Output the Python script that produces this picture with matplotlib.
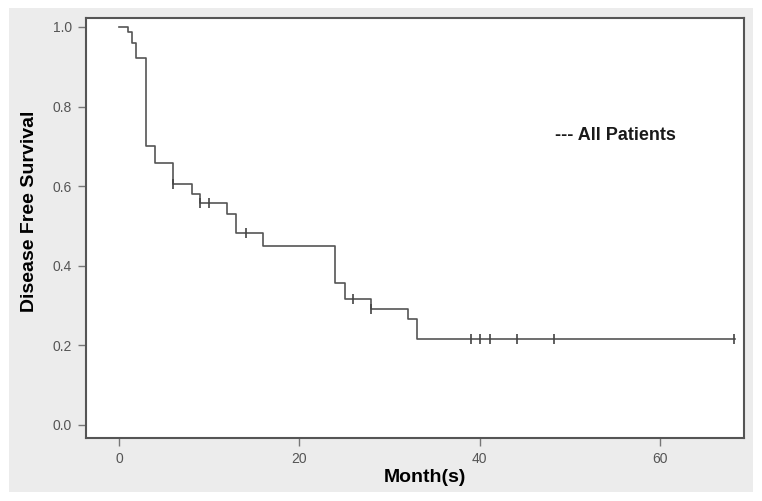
import numpy as np
import matplotlib
matplotlib.use("Agg")
import matplotlib.pyplot as plt
from matplotlib.patches import Rectangle

plt.rcParams["font.family"] = ["Liberation Sans", "DejaVu Sans"]

# Kaplan-Meier step curve (month at which survival changes, survival after change)
event_months = [0, 1.0, 1.4, 1.9, 3.0, 4.0, 6.0, 8.1, 9.0, 12.0, 13.0, 16.0,
                24.0, 25.1, 28.0, 32.1, 33.0]
survival = [1.0, 0.987, 0.961, 0.923, 0.702, 0.657, 0.606, 0.580, 0.557, 0.530,
            0.483, 0.450, 0.356, 0.316, 0.291, 0.265, 0.216]
last_month = 68.3

# censored observations
censor_months = [6.0, 9.0, 10.0, 14.1, 26.0, 28.0, 39.0, 40.0, 41.1, 44.1, 48.2, 68.2]

xticks = [0, 20, 40, 60]
yticks = [0.0, 0.2, 0.4, 0.6, 0.8, 1.0]

fig = plt.figure(figsize=(7.62, 5.01), dpi=100)
fig.patch.set_facecolor("white")
fig.patches.append(Rectangle((9 / 762, 1 - 492 / 501), 744 / 762, 484 / 501,
                             transform=fig.transFigure, facecolor="#ececec",
                             edgecolor="none", zorder=-10))

ax = fig.add_axes([86 / 762, 1 - 438 / 501, 658 / 762, 420 / 501])
ax.set_facecolor("white")

xs = list(event_months) + [last_month]
ys = list(survival) + [survival[-1]]
ax.step(xs, ys, where="post", color="#555555", lw=1.2)

# censor marks sit on the curve
idx = np.searchsorted(event_months, censor_months, side="right") - 1
cy = [survival[i] for i in idx]
ax.plot(censor_months, cy, ls="none", marker="|", ms=7, mew=1.2, color="#444444")

ax.set_xlim(-3.65, 69.3)
ax.set_ylim(-0.033, 1.0226)
ax.set_xticks(xticks)
ax.set_yticks(yticks)
ax.set_xticklabels([str(t) for t in xticks])
ax.set_yticklabels([f"{t:.1f}" for t in yticks])
ax.tick_params(direction="out", length=6, width=1, color="#777777",
               labelcolor="#555555", labelsize=10, pad=4)
for s in ax.spines.values():
    s.set_color("#555555")
    s.set_linewidth(1.5)

ax.set_xlabel("Month(s)", fontsize=14, fontweight="bold")
ax.set_ylabel("Disease Free Survival", fontsize=14, fontweight="bold")
ax.xaxis.set_label_coords(0.515, -0.074)
ax.yaxis.set_label_coords(-0.073, 0.54)

ax.text(48.4, 0.728, "--- All Patients", fontsize=13, fontweight="bold",
        ha="left", va="center", color="#1a1a1a")

fig.savefig("out.png", dpi=100, facecolor=fig.get_facecolor())
